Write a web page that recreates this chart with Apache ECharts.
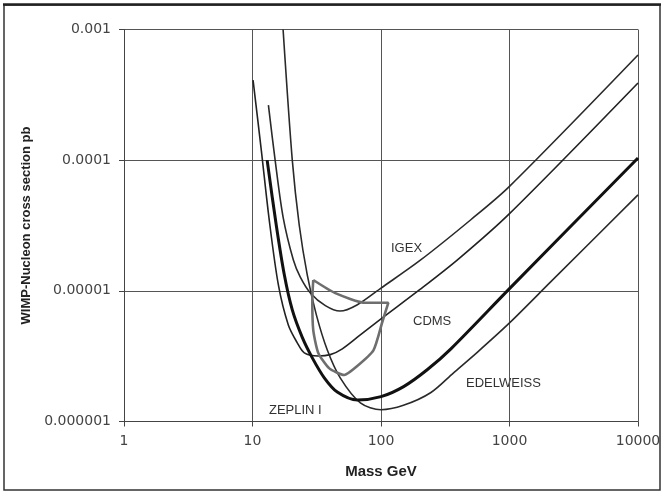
<!DOCTYPE html>
<html lang="en">
<head>
    <meta charset="UTF-8">
    <title>WIMP limits</title>
    <style>
        html, body { margin: 0; padding: 0; background: #fff; }
        #main { width: 664px; height: 494px; }
    </style>
</head>
<body>
    <div id="main"></div>
    <script src="https://cdn.jsdelivr.net/npm/echarts@6/dist/echarts.min.js"></script>
    <script>
        // tick labels
        var xTickLabels = ['1', '10', '100', '1000', '10000'];
        var yTickLabels = ['0.000001', '0.00001', '0.0001', '0.001'];

        // curves (mass GeV, cross section pb)
        var igexMass  = [13.3, 15.0, 17.3, 20.8, 23.5, 28.2, 36.9, 48, 65, 100, 200, 500, 1000, 10000];
        var igexSigma = [2.64e-4, 1.0e-4, 3.67e-5, 1.72e-5, 1.28e-5, 9.64e-6, 7.7e-6, 7.0e-6, 7.8e-6, 1.05e-5, 1.7e-5, 3.5e-5, 6.3e-5, 6.38e-4];

        var cdmsMass  = [10.1, 11.7, 13.5, 15.9, 19.0, 22.3, 25.3, 32.5, 40.3, 50, 69, 100, 200, 400, 1000, 10000];
        var cdmsSigma = [4.1e-4, 1.2e-4, 3.48e-5, 1.11e-5, 5.48e-6, 4.0e-6, 3.35e-6, 3.17e-6, 3.25e-6, 3.6e-6, 4.6e-6, 6.1e-6, 1.02e-5, 1.75e-5, 3.9e-5, 3.9e-4];

        var edelMass  = [13.0, 15.3, 17.7, 20.4, 24.4, 29.2, 36.2, 45.7, 65.5, 100, 150, 230, 350, 1000, 10000];
        var edelSigma = [1.0e-4, 3.19e-5, 1.32e-5, 7.14e-6, 4.4e-6, 3.07e-6, 2.16e-6, 1.68e-6, 1.46e-6, 1.55e-6, 1.85e-6, 2.5e-6, 3.6e-6, 1.04e-5, 1.04e-4];

        var lowMass  = [17.3, 20.4, 23.1, 26.7, 31.4, 38.2, 48.3, 69.1, 100, 149.5, 243, 367, 564, 1000, 2090, 10000];
        var lowSigma = [1.0e-3, 1.0e-4, 3.19e-5, 1.32e-5, 6.55e-6, 3.53e-6, 2.15e-6, 1.39e-6, 1.23e-6, 1.33e-6, 1.66e-6, 2.36e-6, 3.4e-6, 5.68e-6, 1.17e-5, 5.42e-5];

        var zepMass  = [29.7, 44.1, 75.6, 114, 102.5, 87.3, 64.3, 51.8, 39.6, 32.5, 29.7, 29.2, 29.7];
        var zepSigma = [1.21e-5, 9.6e-6, 8.1e-6, 8.1e-6, 5.8e-6, 3.5e-6, 2.62e-6, 2.27e-6, 2.55e-6, 3.35e-6, 5.0e-6, 8.5e-6, 1.21e-5];

        function pairs(xs, ys) {
            var out = [];
            for (var i = 0; i < xs.length; i++) out.push([xs[i], ys[i]]);
            return out;
        }

        function curve(name, xs, ys, color, width, smooth) {
            return {
                name: name,
                type: 'line',
                data: pairs(xs, ys),
                showSymbol: false,
                smooth: smooth,
                lineStyle: { color: color, width: width },
                z: width > 2 ? 4 : 3
            };
        }

        var myChart = echarts.init(document.getElementById('main'));

        var labelFont = '13px "Liberation Sans", Arial, sans-serif';

        var option = {
            animation: false,
            backgroundColor: '#fff',
            grid: { left: 124, right: 26, top: 29.5, bottom: 72.5 },
            xAxis: {
                type: 'log',
                logBase: 10,
                min: 1,
                max: 10000,
                name: 'Mass GeV',
                nameLocation: 'middle',
                nameGap: 43,
                nameTextStyle: { fontFamily: 'Liberation Sans', fontWeight: 'bold', fontSize: 15, color: '#222' },
                axisLine: { lineStyle: { color: '#444', width: 1 } },
                axisTick: { show: true, length: 5, lineStyle: { color: '#444' } },
                minorTick: { show: false },
                axisLabel: {
                    margin: 13,
                    fontFamily: 'DejaVu Sans',
                    fontSize: 14,
                    color: '#444',
                    formatter: function (v) { return xTickLabels[Math.round(Math.log10(v))]; }
                },
                splitLine: { show: true, lineStyle: { color: '#555', width: 1 } }
            },
            yAxis: {
                type: 'log',
                logBase: 10,
                min: 1e-6,
                max: 1e-3,
                name: 'WIMP-Nucleon cross section pb',
                nameLocation: 'middle',
                nameGap: 88,
                nameTextStyle: { fontFamily: 'Liberation Sans', fontWeight: 'bold', fontSize: 13, color: '#222' },
                axisLine: { show: true, lineStyle: { color: '#444', width: 1 } },
                axisTick: { show: true, length: 5, lineStyle: { color: '#444' } },
                minorTick: { show: false },
                axisLabel: {
                    margin: 13,
                    fontFamily: 'DejaVu Sans',
                    fontSize: 14,
                    color: '#444',
                    formatter: function (v) { return yTickLabels[Math.round(Math.log10(v)) + 6]; }
                },
                splitLine: { show: true, lineStyle: { color: '#555', width: 1 } }
            },
            series: [
                curve('IGEX', igexMass, igexSigma, '#2a2a2a', 1.6, 0.3),
                curve('CDMS', cdmsMass, cdmsSigma, '#222', 1.6, 0.3),
                curve('EDELWEISS', edelMass, edelSigma, '#111', 3, 0.3),
                curve('lower', lowMass, lowSigma, '#2a2a2a', 1.6, 0.3),
                curve('ZEPLIN I', zepMass, zepSigma, '#6e6e6e', 2.6, 0.2)
            ],
            graphic: [
                { type: 'rect', shape: { x: 4, y: 5, width: 656, height: 485 },
                  style: { fill: null, stroke: '#333', lineWidth: 1.5 }, silent: true },
                { type: 'line', shape: { x1: 3, y1: 4.5, x2: 661, y2: 4.5 },
                  style: { stroke: '#222', lineWidth: 2.5 }, silent: true },
                { type: 'text', x: 391, y: 248, style: { text: 'IGEX', font: labelFont, fill: '#333', verticalAlign: 'middle' } },
                { type: 'text', x: 413, y: 321, style: { text: 'CDMS', font: labelFont, fill: '#333', verticalAlign: 'middle' } },
                { type: 'text', x: 466, y: 383, style: { text: 'EDELWEISS', font: labelFont, fill: '#333', verticalAlign: 'middle' } },
                { type: 'text', x: 269, y: 410, style: { text: 'ZEPLIN I', font: labelFont, fill: '#333', verticalAlign: 'middle' } }
            ]
        };

        myChart.setOption(option);
    </script>
</body>
</html>
